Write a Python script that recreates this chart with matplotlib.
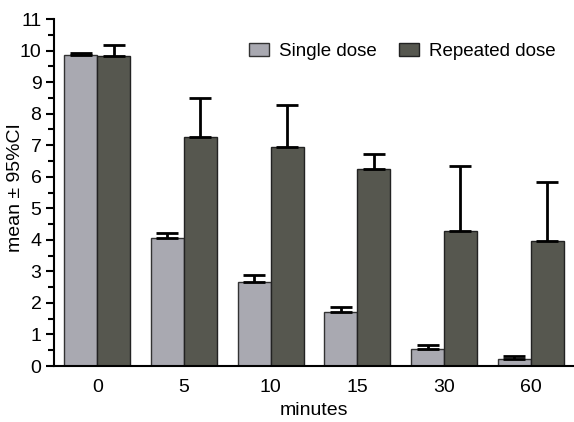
import matplotlib
matplotlib.use("Agg")
import matplotlib.pyplot as plt
import numpy as np
from matplotlib.ticker import MultipleLocator

plt.rcParams['font.family'] = ['Liberation Sans', 'DejaVu Sans']

categories = ["0", "5", "10", "15", "30", "60"]
single_mean = [9.86, 4.06, 2.67, 1.71, 0.53, 0.21]
single_upper = [9.94, 4.22, 2.90, 1.86, 0.67, 0.33]
repeated_mean = [9.82, 7.26, 6.96, 6.26, 4.28, 3.97]
repeated_upper = [10.19, 8.49, 8.27, 6.71, 6.33, 5.82]

single_color = "#a9a9b1"
repeated_color = "#56574f"

fig = plt.figure(figsize=(5.74, 4.22), dpi=100)
ax = fig.add_axes([0.094, 0.1327, 0.906, 0.822])

x = np.arange(len(categories))
w = 0.38
s_err = np.array(single_upper) - np.array(single_mean)
r_err = np.array(repeated_upper) - np.array(repeated_mean)

ax.bar(x - w/2, single_mean, w, color=single_color, edgecolor="#333333", linewidth=1.0,
       label="Single dose", zorder=2)
ax.bar(x + w/2, repeated_mean, w, color=repeated_color, edgecolor="#222222", linewidth=1.0,
       label="Repeated dose", zorder=2)
ax.errorbar(x - w/2, single_mean, yerr=[np.zeros_like(s_err), s_err], fmt="none",
            ecolor="black", elinewidth=2, capsize=8, capthick=2, zorder=3)
ax.errorbar(x + w/2, repeated_mean, yerr=[np.zeros_like(r_err), r_err], fmt="none",
            ecolor="black", elinewidth=2, capsize=8, capthick=2, zorder=3)

ax.set_xlim(-0.5, 5.5)
ax.set_ylim(0, 11)
ax.set_xticks(x)
ax.set_xticklabels(categories)
ax.yaxis.set_major_locator(MultipleLocator(1))
ax.yaxis.set_minor_locator(MultipleLocator(0.5))
ax.tick_params(axis="x", length=0, labelsize=14, pad=9)
ax.tick_params(axis="y", which="major", length=6, width=1.5, labelsize=14, pad=3, direction="out")
ax.tick_params(axis="y", which="minor", length=4, width=1.5, direction="out")
for side in ["top", "right"]:
    ax.spines[side].set_visible(False)
ax.spines["left"].set_linewidth(1.5)
ax.spines["bottom"].set_linewidth(1.5)

ax.set_xlabel("minutes", fontsize=14, labelpad=5)
ax.set_ylabel("mean ± 95%CI", fontsize=14, va="center")
ax.yaxis.set_label_coords(-0.073, 0.515)

ax.legend(loc="upper right", bbox_to_anchor=(0.99, 0.97), ncol=2, frameon=False, fontsize=13.5,
          handlelength=1.07, handleheight=0.72, handletextpad=0.53, columnspacing=1.2,
          borderpad=0.2)

fig.savefig("out.png", dpi=100)
